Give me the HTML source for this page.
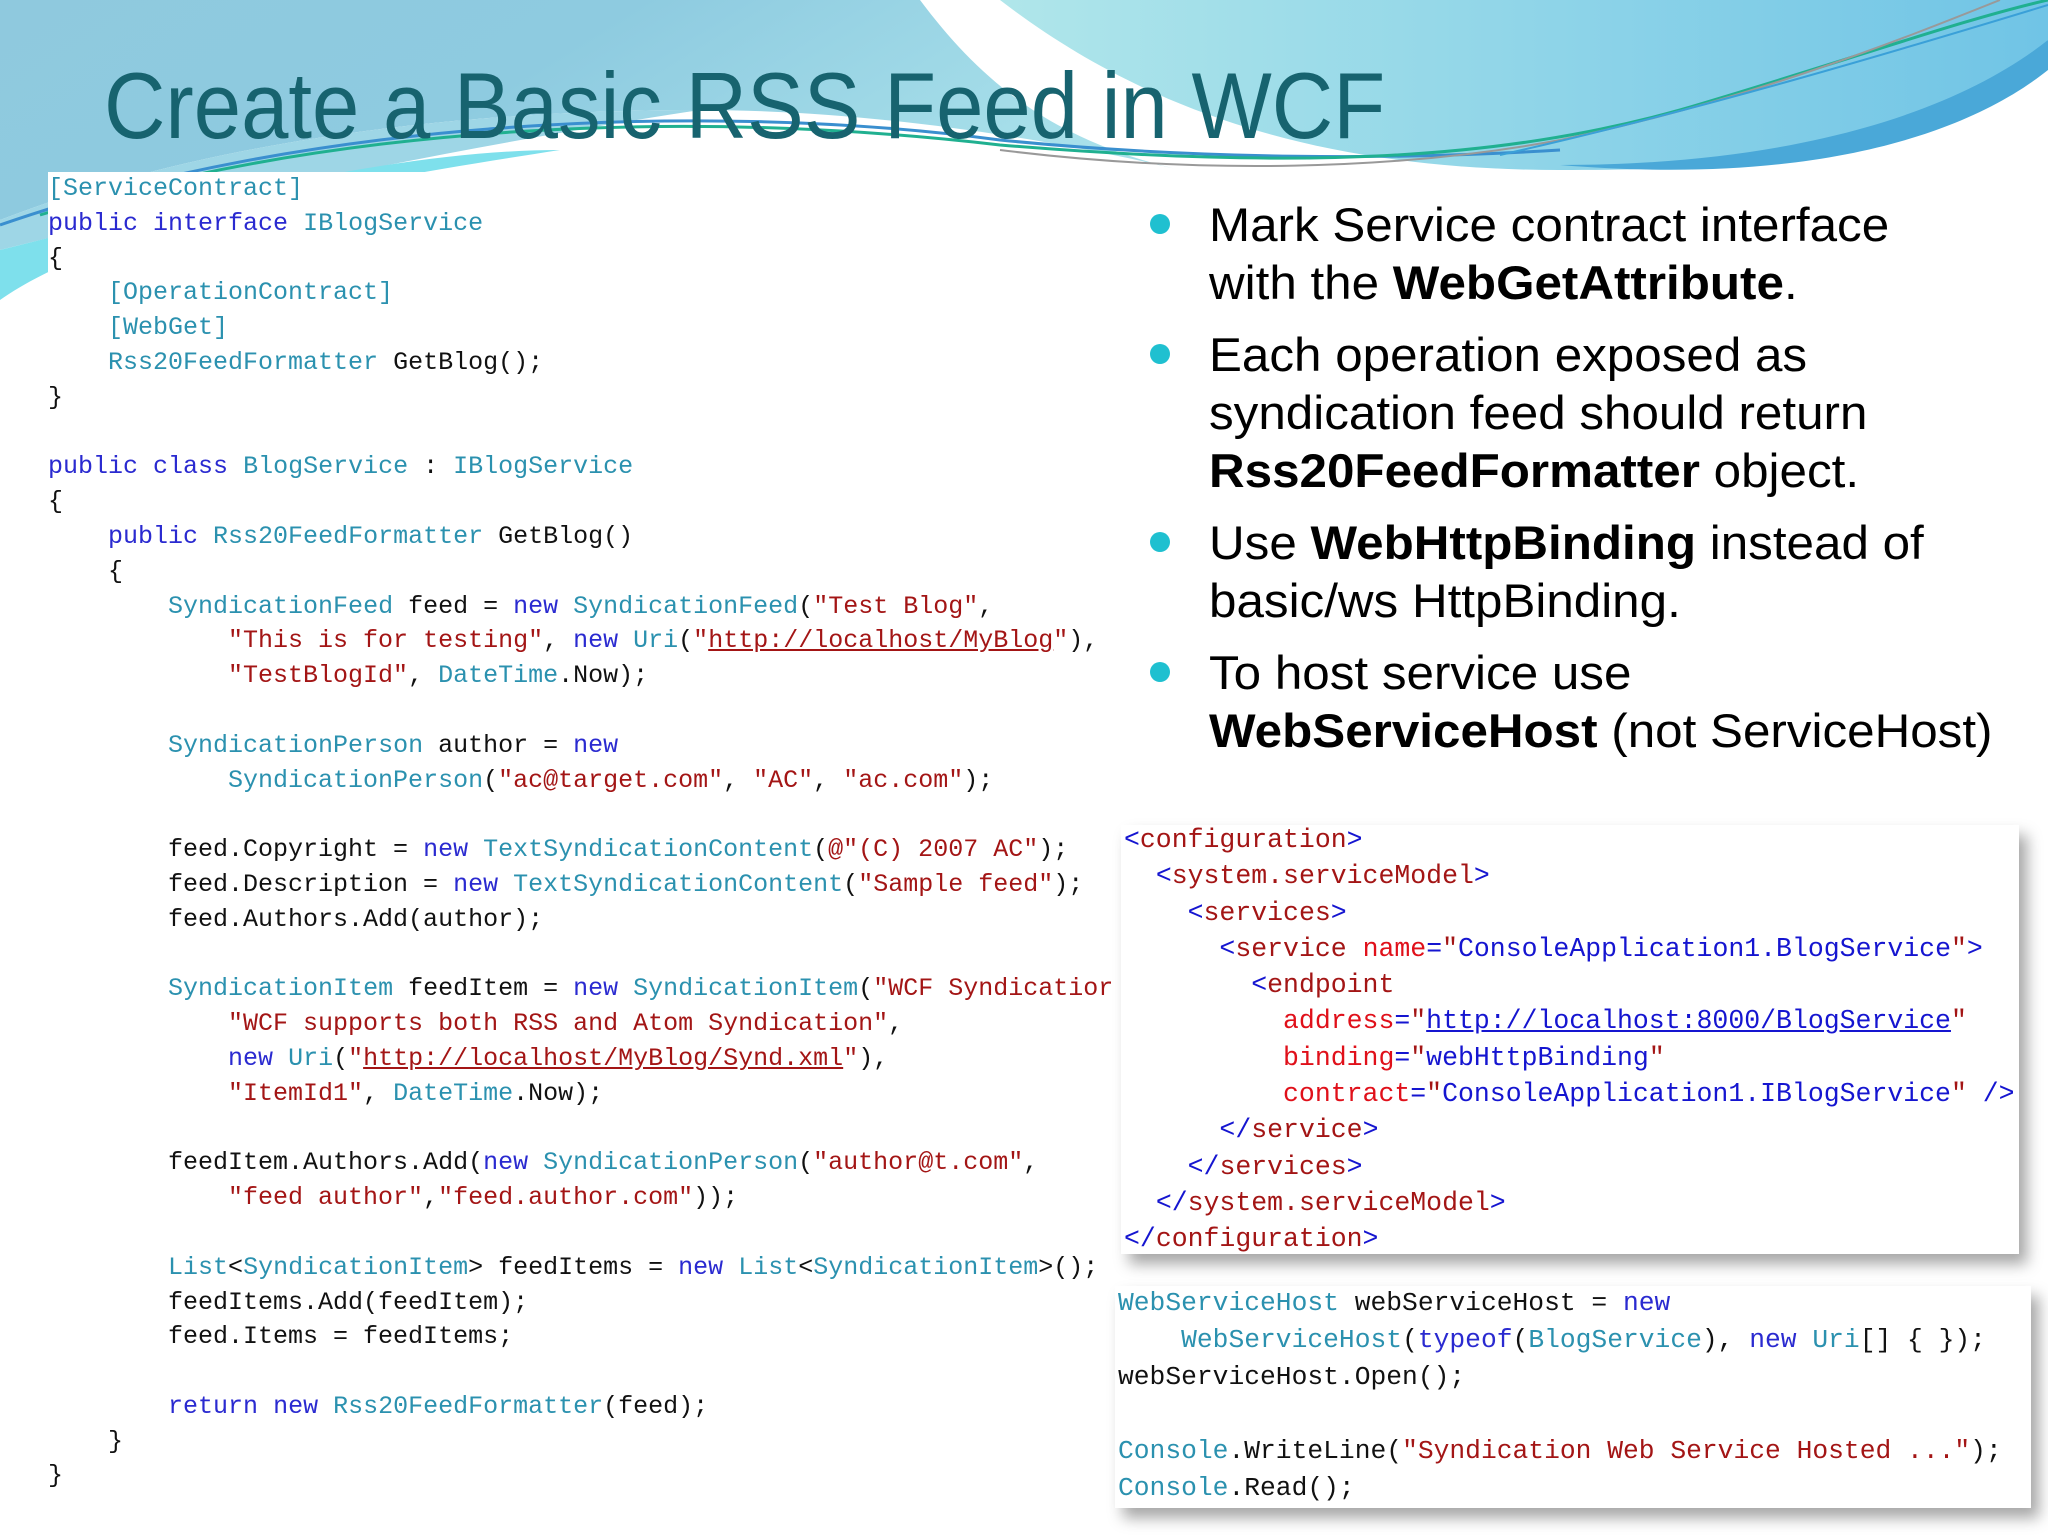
<!DOCTYPE html>
<html><head><meta charset="utf-8"><style>
body{margin:0;width:2048px;height:1536px;overflow:hidden;background:#fff;position:relative;font-family:"Liberation Sans",sans-serif}
.code{position:absolute;font-family:"Liberation Mono",monospace;white-space:pre;color:#111}
.k{color:#2a2ad0}.t{color:#2b91af}.s{color:#a31515}.u{color:#a31515;text-decoration:underline}.a{color:#e0101a}.v{color:#1515d0}.vu{color:#1515d0;text-decoration:underline}
.bul{position:absolute;left:1209px;font-size:47px;line-height:58px;color:#000;transform-origin:0 0;transform:scaleX(1.05);white-space:nowrap}
.dot{position:absolute;left:1150px;width:20px;height:20px;border-radius:50%;background:#1fc0d0}
.box{position:absolute;background:#fff;box-shadow:8px 10px 14px rgba(0,0,0,0.35)}
</style></head><body>
<svg width="2048" height="1536" style="position:absolute;left:0;top:0">
<defs>
<linearGradient id="g1" x1="0" y1="0" x2="1" y2="0.3"><stop offset="0" stop-color="#8fc9de"/><stop offset="0.5" stop-color="#8ecbe0"/><stop offset="1" stop-color="#a8e0ea"/></linearGradient>
<linearGradient id="g2" x1="0" y1="0" x2="1" y2="0"><stop offset="0" stop-color="#b0e6ea"/><stop offset="1" stop-color="#70c4e6"/></linearGradient>
</defs>
<path d="M0 0 H920 C980 80 1050 140 1180 170 C1100 150 900 110 700 110 C420 110 180 150 0 220 Z" fill="url(#g1)"/>
<path d="M0 220 C180 150 420 110 700 110 C500 140 200 200 0 250 Z" fill="#9ed6e6"/>
<path d="M0 250 C200 200 400 150 560 150 C300 190 100 230 0 300 Z" fill="#7ee0ec"/>
<path d="M1000 0 H2048 V40 C1950 150 1800 170 1560 170 C1300 170 1130 100 1000 0 Z" fill="url(#g2)"/>
<path d="M1560 165 C1800 165 1960 110 2048 40 V70 C1960 140 1800 185 1560 165 Z" fill="#4aa8d8"/>
<path d="M0 225 C300 120 700 100 1000 140 C1200 160 1400 160 1560 150" stroke="#3a8fcf" stroke-width="3" fill="none"/>
<path d="M40 215 C350 120 700 110 1000 145 C1300 170 1500 160 1680 110 C1850 60 1960 20 2048 0" stroke="#20b090" stroke-width="3" fill="none"/>
<path d="M1000 150 C1200 175 1400 170 1560 140 C1750 100 1900 40 2000 0" stroke="#999" stroke-width="2" fill="none"/>
<path d="M1500 155 C1700 110 1900 50 2048 5" stroke="#3aa0d8" stroke-width="2" fill="none"/>
</svg>
<div style="position:absolute;left:104px;top:52px;font-size:94px;color:#17636f;white-space:nowrap;transform-origin:0 0;transform:scaleX(0.905)">Create a Basic RSS Feed in WCF</div>

<div class="code" style="left:48px;top:172px;font-size:25px;line-height:34.8px;background:#fff;padding-right:8px"><span class="t">[ServiceContract]</span>
<span class="k">public</span> <span class="k">interface</span> <span class="t">IBlogService</span>
{
    <span class="t">[OperationContract]</span>
    <span class="t">[WebGet]</span>
    <span class="t">Rss20FeedFormatter</span> GetBlog();
}

<span class="k">public</span> <span class="k">class</span> <span class="t">BlogService</span> : <span class="t">IBlogService</span>
{
    <span class="k">public</span> <span class="t">Rss20FeedFormatter</span> GetBlog()
    {
        <span class="t">SyndicationFeed</span> feed = <span class="k">new</span> <span class="t">SyndicationFeed</span>(<span class="s">"Test Blog"</span>,
            <span class="s">"This is for testing"</span>, <span class="k">new</span> <span class="t">Uri</span>(<span class="s">"</span><span class="u">http://localhost/MyBlog</span><span class="s">"</span>),
            <span class="s">"TestBlogId"</span>, <span class="t">DateTime</span>.Now);

        <span class="t">SyndicationPerson</span> author = <span class="k">new</span>
            <span class="t">SyndicationPerson</span>(<span class="s">"ac@target.com"</span>, <span class="s">"AC"</span>, <span class="s">"ac.com"</span>);

        feed.Copyright = <span class="k">new</span> <span class="t">TextSyndicationContent</span>(<span class="s">@"(C) 2007 AC"</span>);
        feed.Description = <span class="k">new</span> <span class="t">TextSyndicationContent</span>(<span class="s">"Sample feed"</span>);
        feed.Authors.Add(author);

        <span class="t">SyndicationItem</span> feedItem = <span class="k">new</span> <span class="t">SyndicationItem</span>(<span class="s">"WCF Syndicatior</span>
            <span class="s">"WCF supports both RSS and Atom Syndication"</span>,
            <span class="k">new</span> <span class="t">Uri</span>(<span class="s">"</span><span class="u">http://localhost/MyBlog/Synd.xml</span><span class="s">"</span>),
            <span class="s">"ItemId1"</span>, <span class="t">DateTime</span>.Now);

        feedItem.Authors.Add(<span class="k">new</span> <span class="t">SyndicationPerson</span>(<span class="s">"author@t.com"</span>,
            <span class="s">"feed author"</span>,<span class="s">"feed.author.com"</span>));

        <span class="t">List</span>&lt;<span class="t">SyndicationItem</span>&gt; feedItems = <span class="k">new</span> <span class="t">List</span>&lt;<span class="t">SyndicationItem</span>&gt;();
        feedItems.Add(feedItem);
        feed.Items = feedItems;

        <span class="k">return</span> <span class="k">new</span> <span class="t">Rss20FeedFormatter</span>(feed);
    }
}</div>

<div class="dot" style="top:214px"></div>
<div class="bul" style="top:196px">Mark Service contract interface<br>with the <b>WebGetAttribute</b>.</div>
<div class="dot" style="top:344px"></div>
<div class="bul" style="top:326px">Each operation exposed as<br>syndication feed should return<br><b>Rss20FeedFormatter</b> object.</div>
<div class="dot" style="top:532px"></div>
<div class="bul" style="top:514px">Use <b>WebHttpBinding</b> instead of<br>basic/ws HttpBinding.</div>
<div class="dot" style="top:662px"></div>
<div class="bul" style="top:644px">To host service use<br><b>WebServiceHost</b> (not ServiceHost)</div>

<div class="box" style="left:1121px;top:825px;width:898px;height:429px"></div>
<div class="code" style="left:1124px;top:822px;font-size:26.5px;line-height:36.3px;color:#a31515"><span class="v">&lt;</span>configuration<span class="v">&gt;</span>
  <span class="v">&lt;</span>system.serviceModel<span class="v">&gt;</span>
    <span class="v">&lt;</span>services<span class="v">&gt;</span>
      <span class="v">&lt;</span>service <span class="a">name</span><span class="v">=</span>"<span class="v">ConsoleApplication1.BlogService</span>"<span class="v">&gt;</span>
        <span class="v">&lt;</span>endpoint
          <span class="a">address</span><span class="v">=</span>"<span class="vu">http://localhost:8000/BlogService</span>"
          <span class="a">binding</span><span class="v">=</span>"<span class="v">webHttpBinding</span>"
          <span class="a">contract</span><span class="v">=</span>"<span class="v">ConsoleApplication1.IBlogService</span>" <span class="v">/&gt;</span>
      <span class="v">&lt;/</span>service<span class="v">&gt;</span>
    <span class="v">&lt;/</span>services<span class="v">&gt;</span>
  <span class="v">&lt;/</span>system.serviceModel<span class="v">&gt;</span>
<span class="v">&lt;/</span>configuration<span class="v">&gt;</span></div>

<div class="box" style="left:1115px;top:1286px;width:916px;height:222px"></div>
<div class="code" style="left:1118px;top:1285px;font-size:26.3px;line-height:37.1px"><span class="t">WebServiceHost</span> webServiceHost = <span class="k">new</span>
    <span class="t">WebServiceHost</span>(<span class="k">typeof</span>(<span class="t">BlogService</span>), <span class="k">new</span> <span class="t">Uri</span>[] { });
webServiceHost.Open();

<span class="t">Console</span>.WriteLine(<span class="s">"Syndication Web Service Hosted ..."</span>);
<span class="t">Console</span>.Read();</div>
</body></html>
